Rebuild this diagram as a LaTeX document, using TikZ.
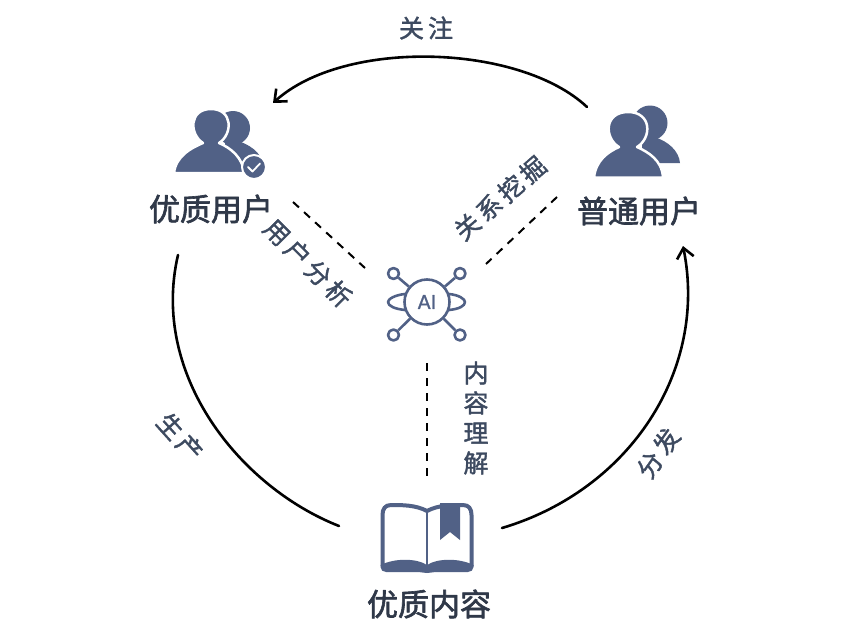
\documentclass[tikz,border=0pt]{standalone}
\usepackage{fontspec}
\usetikzlibrary{arrows.meta}
\newfontfamily\cjkhead[FakeBold=2]{Noto Sans CJK SC}
\newfontfamily\cjklabel[LetterSpace=16,FakeBold=1.6]{Noto Sans CJK SC}
\newfontfamily\aifont[FakeBold=1.2]{DejaVu Sans}
\definecolor{iconblue}{HTML}{516186}
\definecolor{headtext}{HTML}{2F3848}
\definecolor{labeltext}{HTML}{3D4A60}
\tikzset{
	headlabel/.style={text=headtext,font=\cjkhead\fontsize{31}{31}\selectfont,inner sep=0pt},
	arclabel/.style={text=labeltext,font=\cjklabel\fontsize{25}{30}\selectfont,inner sep=0pt,align=center},
	flowarc/.style={line width=2.6pt,line cap=round},
	linkdash/.style={line width=2pt,dash pattern=on 8pt off 7pt},
	iconline/.style={draw=iconblue,line width=2.6pt}
}
\begin{document}
\begin{tikzpicture}[x=1pt,y=-1pt,>={Straight Barb[length=10pt,width=17pt,line width=2.6pt]},line join=round]
	\useasboundingbox (0,0) rectangle (860,635);
	\path
	(587,107) coordinate (FollowS)
	(273,103) coordinate (FollowE)
	(178,255) coordinate (ProduceS)
	(339,526) coordinate (ProduceE)
	(502,528) coordinate (ShareS)
	(683,246) coordinate (ShareE)
	(293,202) coordinate (DashA)
	(365,268) coordinate (DashB)
	(557,197) coordinate (DashC)
	(486,264) coordinate (DashD)
	(427,363) coordinate (DashE)
	(427,477) coordinate (DashF);
	% tieu de
	\node[headlabel] (GoodUser) at (211,209) {优质用户};
	\node[headlabel] (NormalUser) at (639,211) {普通用户};
	\node[headlabel] (GoodContent) at (429,604) {优质内容};
	% ba cung tron
	\draw[flowarc,->] (FollowS) .. controls (520,44) and (345,38) .. (FollowE);
	\draw[flowarc] (ProduceS) .. controls (150,375) and (240,487) .. (ProduceE);
	\draw[flowarc,->] (ShareS) .. controls (630,490) and (708,370) .. (ShareE);
	\node[arclabel] (FollowText) at (426,28) {关注};
	\node[arclabel,rotate=-48] (ProduceText) at (180,437) {生产};
	\node[arclabel,rotate=55] (ShareText) at (658,453) {分发};
	% duong net dut
	\draw[linkdash] (DashA)--(DashB);
	\draw[linkdash] (DashC)--(DashD);
	\draw[linkdash] (DashE)--(DashF);
	\node[arclabel,rotate=-45] (AnalyseText) at (308,263) {用户分析};
	\node[arclabel,rotate=41] (RelationText) at (500,198) {关系挖掘};
	\node[arclabel] (ContentText) at (476,418) {内\\容\\理\\解};
	% nguoi dung chat luong
	\begin{scope}[shift={(211,128)}]
		\fill[iconblue] (22,0) circle (17);
		\fill[iconblue] (14,12) -- (24,12) .. controls (38,16) and (50,24) .. (52,36) -- (14,36) -- cycle;
		\draw[white,line width=2.5pt,fill=iconblue] (-37,45) .. controls (-35,28) and (-20,20) .. (-8,15) .. controls (-22,6) and (-22,-19) .. (0,-19) .. controls (22,-19) and (22,6) .. (8,15) .. controls (20,20) and (32,30) .. (33,45) -- cycle;
		\draw[white,line width=2pt,fill=iconblue] (43,39) circle (12);
		\draw[white,line width=1.8pt,line cap=round] (37,39) -- (41.5,43.5) -- (49,35.5);
	\end{scope}
	% nguoi dung thuong
	\begin{scope}[shift={(628,132)}]
		\fill[iconblue] (22,-9) circle (17.5);
		\fill[iconblue] (14,5) -- (26,5) .. controls (40,9) and (51,19) .. (52,31) -- (14,31) -- cycle;
		\draw[white,line width=2.5pt,fill=iconblue] (-34,45.5) .. controls (-32,28) and (-20,20) .. (-9,15) .. controls (-24,6) and (-24,-20) .. (0,-20) .. controls (24,-20) and (24,6) .. (9,15) .. controls (20,20) and (34,28) .. (35,45.5) -- cycle;
	\end{scope}
	% bieu tuong AI
	\begin{scope}[shift={(427,302)}]
		\node[circle,iconline,minimum size=45pt,inner sep=0pt,text=iconblue,font=\aifont\fontsize{19}{19}\selectfont] (AiCore) at (0,0) {AI};
		\foreach \sx/\sy/\nm in {-33.5/-28.5/NW,33/-28.5/NE,-33.5/33/SW,33/33/SE}
		{
			\node[circle,iconline,minimum size=11pt,inner sep=0pt] (Ai\nm) at (\sx,\sy) {};
			\draw[iconline] (Ai\nm) -- (AiCore);
		}
		\draw[iconline] (-22,-8) .. controls (-32,-7) and (-39,-3) .. (-39,0) .. controls (-39,4) and (-32,7) .. (-22,8);
		\draw[iconline] (22,-8) .. controls (32,-7) and (38,-3) .. (38,0) .. controls (38,4) and (32,7) .. (22,8);
	\end{scope}
	% quyen sach
	\draw[iconblue,line width=4pt] (427,511) .. controls (416,505) and (402,505) .. (391,505) .. controls (385,505) and (382.5,509) .. (382.5,515) -- (382.5,566);
	\draw[iconblue,line width=4pt] (427,511) .. controls (438,505) and (452,505) .. (463,505) .. controls (469,505) and (471.5,509) .. (471.5,515) -- (471.5,566);
	\draw[iconblue,line width=2.6pt] (427,511) -- (427,568);
	\fill[iconblue] (380.5,565) .. controls (395,558) and (416,558) .. (427,565) .. controls (438,558) and (459,558) .. (473.5,565) -- (473.5,567) .. controls (473.5,570) and (471,572) .. (468,572) -- (437,572) .. controls (433,572) and (430,573) .. (427,573) .. controls (424,573) and (421,572) .. (417,572) -- (386,572) .. controls (383,572) and (380.5,570) .. (380.5,567) -- cycle;
	\fill[iconblue] (440,503) -- (460,503) -- (460,540) -- (450,532) -- (440,540) -- cycle;
\end{tikzpicture}
\end{document}
